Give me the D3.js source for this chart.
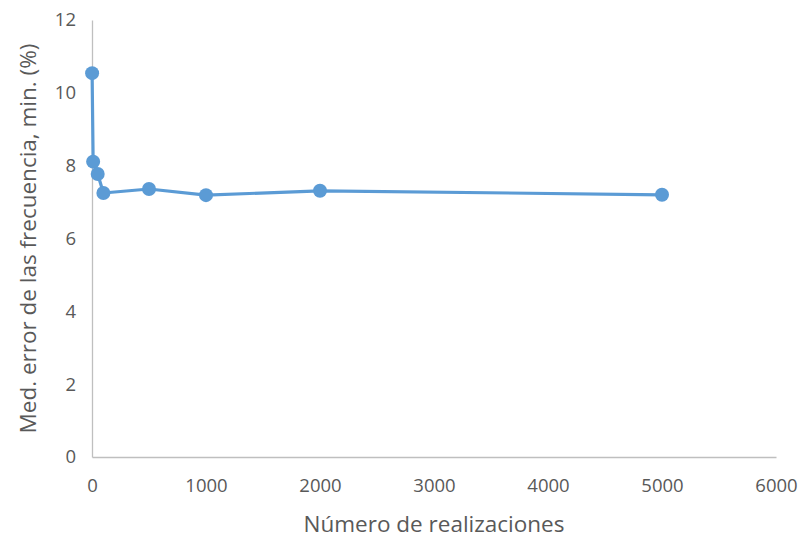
<!DOCTYPE html>
<html>
<head>
<meta charset="utf-8">
<script src="https://cdn.jsdelivr.net/npm/d3@7"></script>
<style>
  body { margin: 0; background: #fff; }
  text { font-family: "Open Sans", "Liberation Sans", sans-serif; fill: #595959; }
</style>
</head>
<body>
<svg id="chart"></svg>
<script>
var width = 803;
var height = 539;

// data
const realizaciones = [1, 10, 50, 100, 500, 1000, 2000, 5000];
const errorMin = [10.54, 8.11, 7.77, 7.25, 7.36, 7.19, 7.31, 7.2];
const xTicks = [0, 1000, 2000, 3000, 4000, 5000, 6000];
const yTicks = [0, 2, 4, 6, 8, 10, 12];

const data = realizaciones.map((n, i) => ({ n: n, v: errorMin[i] }));

const margin = { left: 92, right: 27, top: 20, bottom: 82 };

const svg = d3.select("#chart")
  .attr("width", width)
  .attr("height", height);

const x = d3.scaleLinear()
  .domain([0, 6000])
  .range([margin.left, width - margin.right]);

const y = d3.scaleLinear()
  .domain([0, 12])
  .range([height - margin.bottom, margin.top]);

// axes
svg.append("g")
  .attr("transform", `translate(0, ${y(0)})`)
  .call(d3.axisBottom(x).tickValues(xTicks).tickSize(0).tickPadding(22).tickFormat(d3.format("d")));

svg.append("g")
  .attr("transform", `translate(${x(0)}, 0)`)
  .call(d3.axisLeft(y).tickValues(yTicks).tickSize(0).tickPadding(16));

svg.selectAll(".domain").attr("stroke", "#BFBFBF").attr("stroke-width", 1.3);
svg.selectAll(".tick text")
  .style("font-size", "18.5px")
  .attr("fill", "#595959");

// axis titles
svg.append("text")
  .attr("x", (x(0) + x(6000)) / 2)
  .attr("y", 532)
  .attr("text-anchor", "middle")
  .style("font-size", "22.5px")
  .text("Número de realizaciones");

svg.append("text")
  .attr("transform", `translate(36, ${(y(0) + y(12)) / 2}) rotate(-90)`)
  .attr("text-anchor", "middle")
  .style("font-size", "22.5px")
  .text("Med. error de las frecuencia, min. (%)");

// line + markers
const line = d3.line()
  .x(d => x(d.n))
  .y(d => y(d.v));

svg.append("path")
  .datum(data)
  .attr("d", line)
  .attr("fill", "none")
  .attr("stroke", "#5B9BD5")
  .attr("stroke-width", 3.2)
  .attr("stroke-linejoin", "round");

svg.selectAll(".pt")
  .data(data)
  .enter()
  .append("circle")
  .attr("class", "pt")
  .attr("cx", d => x(d.n))
  .attr("cy", d => y(d.v))
  .attr("r", 7)
  .attr("fill", "#5B9BD5");
</script>
</body>
</html>
